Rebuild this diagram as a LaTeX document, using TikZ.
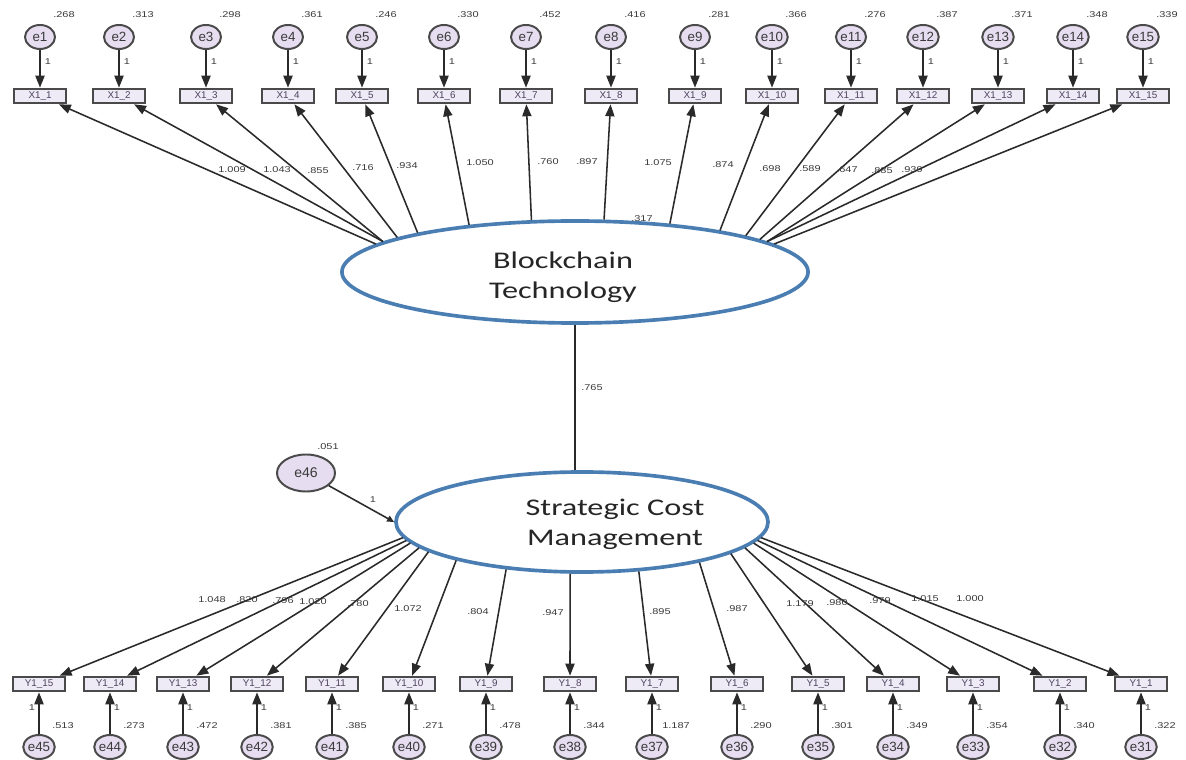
\documentclass[tikz,border=0pt]{standalone}
\usepackage{fontspec}
\usepackage{graphicx}
\setmainfont{Liberation Sans}
\newfontfamily\calfont{Carlito}
\usetikzlibrary{arrows.meta,shapes.geometric}
\definecolor{lav}{HTML}{E6DDF0}
\definecolor{boxfill}{HTML}{EEEAF6}
\definecolor{edgec}{HTML}{2A2A2A}
\definecolor{ellc}{HTML}{4A7EB3}
\definecolor{txt}{HTML}{3A3A3A}
\definecolor{boxtxt}{HTML}{4D4560}
\newcommand\hsc[1]{\scalebox{1.3}[1]{#1}}
\newcommand\hbig[1]{\scalebox{1.35}[1]{#1}}
\begin{document}
\begin{tikzpicture}[x=0.025cm,y=-0.025cm,
  errc/.style={ellipse,draw=edgec!85,line width=1.4pt,fill=lav,minimum width=0.75cm,minimum height=0.6cm,inner sep=0pt,font=\fontsize{9.5}{10}\selectfont,text=txt},
  obs/.style={rectangle,draw=edgec!85,line width=1.3pt,fill=boxfill,minimum width=1.3cm,minimum height=0.37cm,inner sep=0pt,font=\fontsize{7}{8}\selectfont,text=boxtxt},
  lat/.style={ellipse,draw=ellc,line width=2.6pt,fill=white,inner sep=0pt},
  lbl/.style={inner sep=0pt,font=\fontsize{6}{7}\selectfont,text=txt},
  arr/.style={draw=edgec,line width=1.1pt,-{Triangle[length=8.5pt,width=6.5pt]}},
  big/.style={inner sep=0pt,font=\calfont\fontsize{17}{21.3}\selectfont,text=black!85,align=center}]
\useasboundingbox (0,0) rectangle (1186,760);
\fill[white] (0,0) rectangle (1186,760);
% latent variables
\node[lat,minimum width=11.65cm,minimum height=2.55cm] (BT) at (575,272) {};
\node[big] (BTt) at (563,277) {\hbig{Blockchain}\\\hbig{Technology}};
\node[lat,minimum width=9.3cm,minimum height=2.5cm] (SCM) at (582,522) {};
\node[big] (SCMt) at (615,524) {\hbig{Strategic Cost}\\\hbig{Management}};
\draw[draw=edgec,line width=1.1pt] (BT.south) -- (BT.south |- SCM.north);
\node[lbl] (p765) at (592,388) {\hsc{.765}};
% disturbance
\node[errc,minimum width=1.45cm,minimum height=0.925cm,font=\fontsize{10}{11}\selectfont] (e46) at (306,473) {e46};
\node[lbl] (v46) at (328,447) {\hsc{.051}};
\node[lbl] (o46) at (373,500) {\hsc{1}};
\draw[draw=edgec,line width=1.1pt,-{Triangle[length=5pt,width=4.5pt]}] (e46) -- (SCM.west);
% top indicators
\foreach \i/\x/\va/\a in {1/40/.268/172.7,2/119/.313/171.9,3/206/.298/171.0,4/288/.361/169.6,5/362/.246/166.0,6/444/.330/156.7,7/526/.452/130,8/611/.416/61.6,9/695/.281/27.3,10/772/.366/16.5,11/851/.276/12.0,12/923/.387/10.8,13/998/.371/9.8,14/1073/.348/9.3,15/1143/.339/8.4}{
  \node[errc] (e\i) at (\x,37) {e\i};
  \node[obs] (X\i) at (\x,96) {X1\_\i};
  \node[lbl] (v\i) at (\x+24,15) {\hsc{\va}};
  \node[lbl] (o\i) at (\x+8,62) {\hsc{1}};
  \draw[arr] (e\i) -- (X\i);
  \draw[arr] (BT.\a) -- (X\i);
}
% top loadings
\foreach \k/\x/\y/\t in {1/232/170/1.009,2/277/170/1.043,3/318/171/.855,4/363/168/.716,5/407/166/.934,6/480/163/1.050,7/548/162/.760,8/587/162/.897,9/658/163/1.075,10/723/165/.874,11/770/169/.698,12/810/169/.589,13/847/170/.647,14/882/171/.885,15/912/170/.939}{
  \node[lbl] (lt\k) at (\x,\y) {\hsc{\t}};
}
\node[lbl] (p317) at (642,219) {\hsc{.317}};
% bottom indicators
\foreach \i/\e/\x/\va/\a/\s in {15/45/39/.513/185.4/-7,14/44/110/.273/186.4/7,13/43/183/.472/187.6/7,12/42/257/.381/189.1/7,11/41/332/.385/191.3/7,10/40/409/.271/197.3/7,9/39/486/.478/212.5/7,8/38/570/.344/257/7,7/37/652/1.187/319.2/7,6/36/737/.290/341.1/7,5/35/818/.301/348.9/7,4/34/893/.349/351.5/7,3/33/973/.354/353.1/7,2/32/1060/.340/354.1/7,1/31/1141/.322/355.1/7}{
  \node[obs] (Y\i) at (\x,684) {Y1\_\i};
  \node[errc] (e\e) at (\x,747) {e\e};
  \node[lbl] (v\e) at (\x+24,726) {\hsc{\va}};
  \node[lbl] (o\e) at (\x+\s,708) {\hsc{1}};
  \draw[arr] (e\e) -- (Y\i);
  \draw[arr] (SCM.\a) -- (Y\i);
}
% bottom loadings
\foreach \k/\x/\y/\t in {15/212/600/1.048,14/247/600/.820,13/283/601/.796,12/313/602/1.020,11/358/604/.780,10/408/609/1.072,9/478/612/.804,8/553/613/.947,7/660/612/.895,6/737/609/.987,5/800/604/1.179,4/837/603/.980,3/880/601/.979,2/925/599/1.015,1/970/599/1.000}{
  \node[lbl] (lb\k) at (\x,\y) {\hsc{\t}};
}
\end{tikzpicture}
\end{document}
